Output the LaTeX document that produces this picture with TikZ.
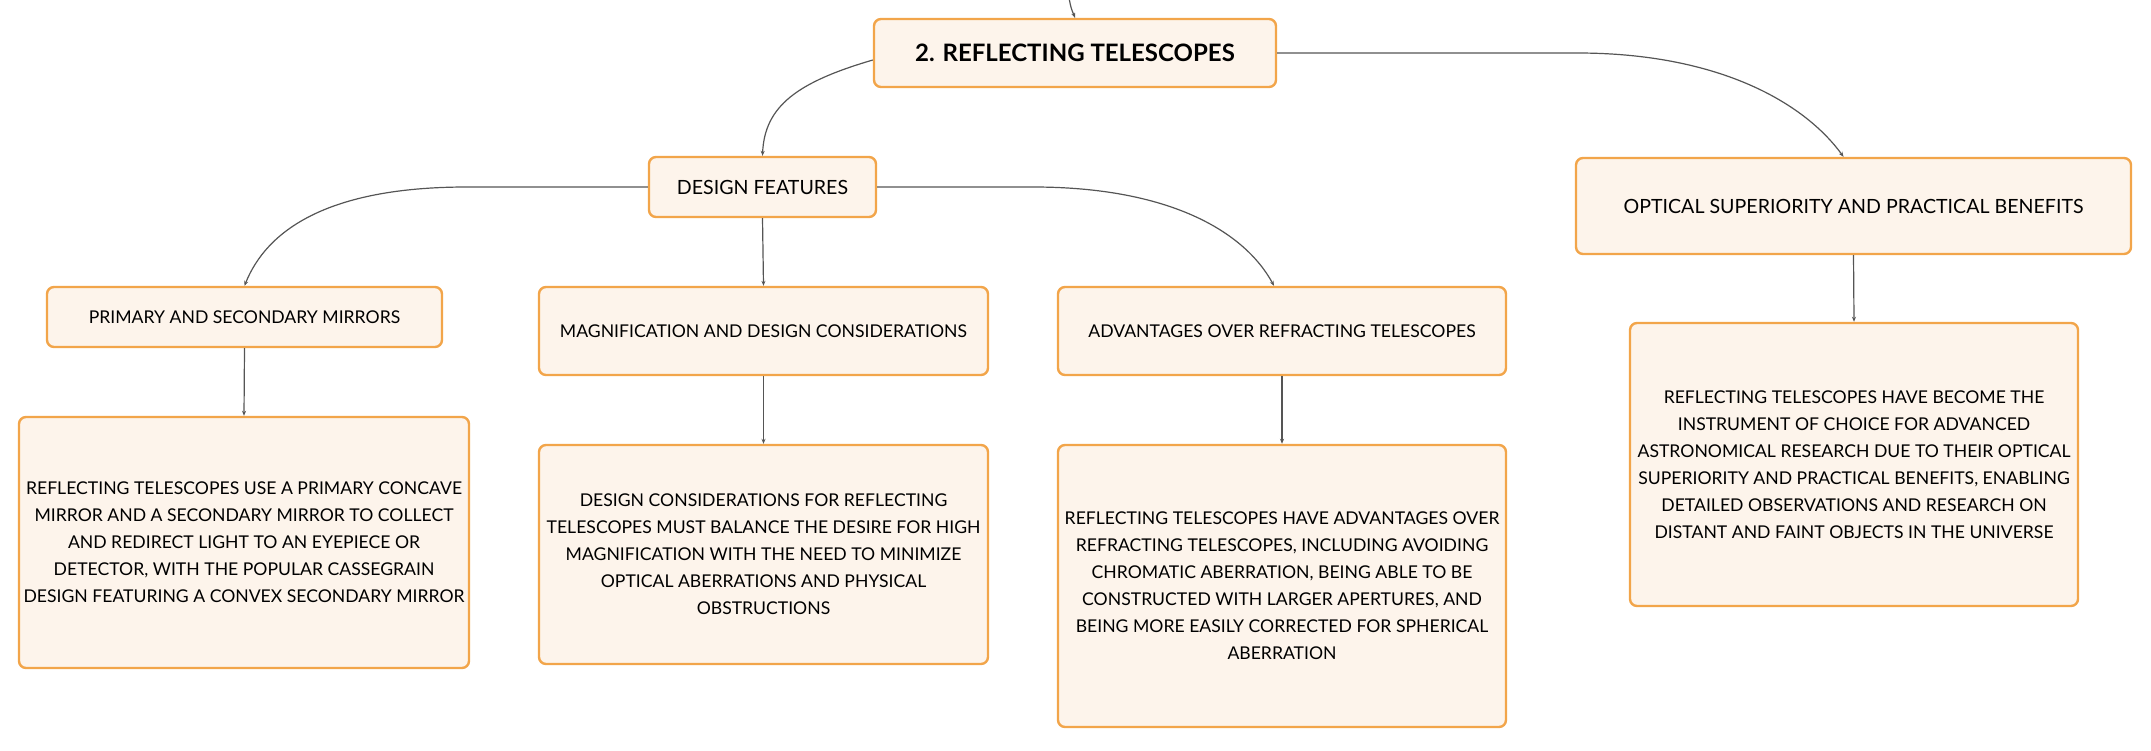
\documentclass[tikz,border=0pt]{standalone}
\usepackage{fontspec}
\setmainfont{Lato}
\usetikzlibrary{arrows.meta}
\definecolor{boxline}{HTML}{F2A54A}
\definecolor{boxfill}{HTML}{FDF4EB}
\definecolor{linkgray}{HTML}{555555}
\begin{document}
\begin{tikzpicture}[x=0.5pt,y=-0.5pt,
  topic/.style={draw=boxline,fill=boxfill,line width=1.2pt,rounded corners=3.5pt,
    inner sep=0pt,align=center,font=\fontsize{8.8}{13.5}\selectfont},
  bigtopic/.style={topic,font=\fontsize{9.8}{13.5}\selectfont},
  link/.style={draw=linkgray,line width=0.6pt,-{Stealth[length=2.5pt,width=2pt]}}]
\useasboundingbox (0,0) rectangle (2151,750);
% main topic and its branches
\node[topic,minimum width=201pt,minimum height=34pt,font=\fontsize{12}{13}\selectfont\bfseries] (root) at (1075,53) {2. REFLECTING TELESCOPES};
\node[bigtopic,minimum width=113.5pt,minimum height=30pt] (df) at (762.5,187) {DESIGN FEATURES};
\node[bigtopic,minimum width=277.5pt,minimum height=48pt] (ospb) at (1853.5,206) {OPTICAL SUPERIORITY AND PRACTICAL BENEFITS};
\node[topic,minimum width=197.5pt,minimum height=30pt] (psm) at (244.5,317) {PRIMARY AND SECONDARY MIRRORS};
\node[topic,minimum width=224.5pt,minimum height=44pt] (mdc) at (763.5,331) {MAGNIFICATION AND DESIGN CONSIDERATIONS};
\node[topic,minimum width=224pt,minimum height=44pt] (arf) at (1282,331) {ADVANTAGES OVER REFRACTING TELESCOPES};
% leaves
\node[topic,minimum width=225pt,minimum height=125.5pt] (psml) at (244,542.5) {REFLECTING TELESCOPES USE A PRIMARY CONCAVE\\MIRROR AND A SECONDARY MIRROR TO COLLECT\\AND REDIRECT LIGHT TO AN EYEPIECE OR\\DETECTOR, WITH THE POPULAR CASSEGRAIN\\DESIGN FEATURING A CONVEX SECONDARY MIRROR};
\node[topic,minimum width=224.5pt,minimum height=109.5pt] (mdcl) at (763.5,554.5) {DESIGN CONSIDERATIONS FOR REFLECTING\\TELESCOPES MUST BALANCE THE DESIRE FOR HIGH\\MAGNIFICATION WITH THE NEED TO MINIMIZE\\OPTICAL ABERRATIONS AND PHYSICAL\\OBSTRUCTIONS};
\node[topic,minimum width=224pt,minimum height=141pt] (arfl) at (1282,586) {REFLECTING TELESCOPES HAVE ADVANTAGES OVER\\REFRACTING TELESCOPES, INCLUDING AVOIDING\\CHROMATIC ABERRATION, BEING ABLE TO BE\\CONSTRUCTED WITH LARGER APERTURES, AND\\BEING MORE EASILY CORRECTED FOR SPHERICAL\\ABERRATION};
\node[topic,minimum width=224pt,minimum height=141.5pt] (ospbl) at (1854,464.5) {REFLECTING TELESCOPES HAVE BECOME THE\\INSTRUMENT OF CHOICE FOR ADVANCED\\ASTRONOMICAL RESEARCH DUE TO THEIR OPTICAL\\SUPERIORITY AND PRACTICAL BENEFITS, ENABLING\\DETAILED OBSERVATIONS AND RESEARCH ON\\DISTANT AND FAINT OBJECTS IN THE UNIVERSE};
% connectors
\coordinate (up) at (1069,-2);
\draw[link] (up) .. controls +(2,10) .. (root.north);
\draw[link] ([yshift=-3.5pt]root.west) .. controls +(-75,22) and +(2,-50) .. (df.north);
\draw[link] (root.east) -- ++(300,0) .. controls +(140,0) and +(-40,-55) .. ([xshift=-5pt]ospb.north);
\draw[link] (df.west) -- ++(-181,0) .. controls +(-140,0) and +(22,-55) .. (psm.north);
\draw[link] (df.south) -- (mdc.north);
\draw[link] (df.east) -- ++(156,0) .. controls +(135,0) and +(-30,-55) .. ([xshift=-4pt]arf.north);
\draw[link] (psm.south) -- (psml.north);
\draw[link] (mdc.south) -- (mdcl.north);
\draw[link] (arf.south) -- (arfl.north);
\draw[link] (ospb.south) -- (ospbl.north);
\end{tikzpicture}
\end{document}
